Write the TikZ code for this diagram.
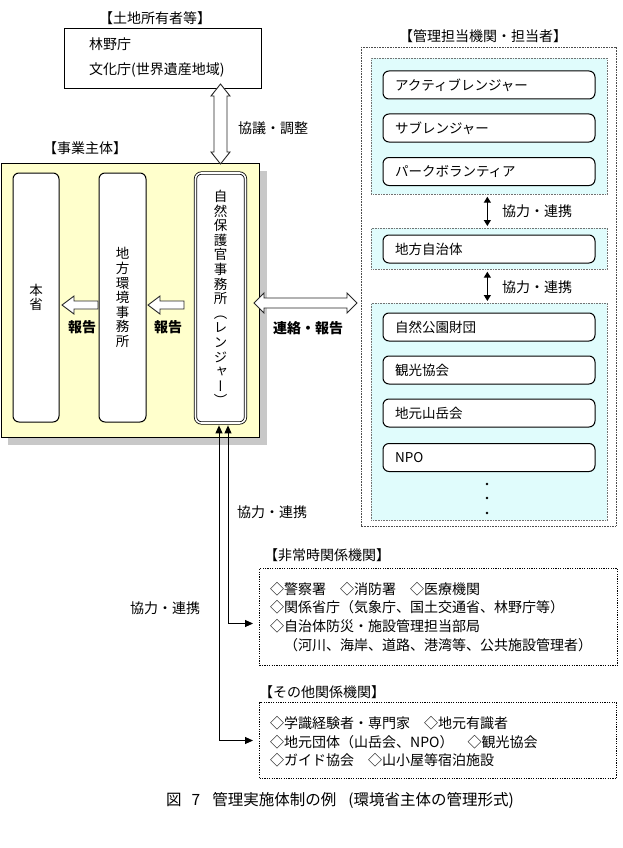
\documentclass[tikz,border=0pt]{standalone}
\usepackage{fontspec}
\setmainfont{Noto Sans CJK JP}
\newfontfamily\vertjp[RawFeature=+vert]{Noto Sans CJK JP}
\usetikzlibrary{arrows.meta,calc}

\definecolor{paleyellow}{RGB}{255,255,204}
\definecolor{palecyan}{RGB}{224,252,252}
\definecolor{shadegray}{RGB}{200,200,200}

\tikzset{
  every node/.style={inner sep=0, font=\fontsize{14}{16}\selectfont},
  plainbox/.style={draw, line width=0.8pt},
  pill/.style={draw, fill=white, rounded corners=6pt, line width=1pt},
  column/.style={pill, minimum width=46, minimum height=249, align=center,
    font=\vertjp\fontsize{13.5}{14.6}\selectfont},
  listitem/.style={pill, minimum width=212, minimum height=28, text width=188,
    align=left, inner xsep=12, font=\fontsize{13.5}{16}\selectfont},
  group/.style={draw=black!55, dash pattern=on 0.8pt off 0.8pt, fill=palecyan, line width=0.7pt},
  outerdots/.style={draw=black!70, dash pattern=on 0.8pt off 0.8pt, line width=0.8pt},
  listbox/.style={draw, dash pattern=on 1.2pt off 1.2pt, line width=1pt},
  hollow/.style={draw=black!85, fill=white, line width=0.9pt, line join=miter},
  boldlabel/.style={font=\bfseries\fontsize{14}{16}\selectfont},
  conn/.style={line width=0.9pt, {Triangle[length=8,width=7]}-{Triangle[length=8,width=7]}},
  linkarrow/.style={line width=1.3pt, {Triangle[length=6,width=7]}-{Triangle[length=6,width=7]}},
}

\begin{document}
\begin{tikzpicture}[x=1pt, y=-1pt]
\useasboundingbox (0,0) rectangle (623,848);

% landowners
\node (ownerslabel) at (155,18) {【土地所有者等】};
\node[plainbox, anchor=north west, minimum width=197, minimum height=60] (owners) at (64,28) {};
\node[anchor=west] (forestry) at (89,44) {林野庁};
\node[anchor=west] (culture) at (89,70) {文化庁(世界遺産地域)};

% operating body
\node (bodylabel) at (85,148) {【事業主体】};
\fill[shadegray] (8,171) rectangle (267,445);
\node[draw, fill=paleyellow, line width=1.2pt, anchor=north west,
      minimum width=258, minimum height=274] (body) at (0.6,163) {};

\node[column] (ministry) at (36,297.5) {本\\省};
\node[column, minimum width=47] (regional) at (122.5,297.5)
  {地\\方\\環\\境\\事\\務\\所};
\node[column, draw=black, double=white, double distance=1.6pt, line width=0.8pt,
      minimum width=50, minimum height=250] (ranger) at (220.5,298)
  {自\\然\\保\\護\\官\\事\\務\\所\\（\\レ\\ン\\ジ\\ャ\\ー\\）};

% consultation arrow (vertical, two-headed, hollow)
\draw[hollow, shift={(220.5,124)}]
  (0,-40) -- (9.5,-28) -- (6.5,-28) -- (6.5,28) -- (9.5,28) -- (0,40)
  -- (-9.5,28) -- (-6.5,28) -- (-6.5,-28) -- (-9.5,-28) -- cycle;
\node[anchor=west] (consultlabel) at (238,128) {協議・調整};

% report arrows (hollow, pointing left)
\foreach \tipx in {62,148}
  \draw[hollow, shift={(\tipx,305)}]
    (0,0) -- (12,-9) -- (12,-4) -- (36,-4) -- (36,4) -- (12,4) -- (12,9) -- cycle;
\node[boldlabel] (reportlabel1) at (82,327) {報告};
\node[boldlabel] (reportlabel2) at (168,327) {報告};

% liaison arrow (horizontal, two-headed, hollow)
\draw[hollow, shift={(305.5,303)}]
  (-51.5,0) -- (-41.5,-10) -- (-41.5,-5) -- (41.5,-5) -- (41.5,-10) -- (51.5,0)
  -- (41.5,10) -- (41.5,5) -- (-41.5,5) -- (-41.5,10) -- cycle;
\node[boldlabel] (liaisonlabel) at (308,328) {連絡・報告};

% management organisations
\node (mgmtlabel) at (483,36) {【管理担当機関・担当者】};
\draw[outerdots] (361,47) rectangle (616,526);

\node[group, anchor=north west, minimum width=236, minimum height=136] (grp1) at (371,58) {};
\node[group, anchor=north west, minimum width=236, minimum height=41] (grp2) at (371,228) {};
\node[group, anchor=north west, minimum width=236, minimum height=217] (grp3) at (371,303) {};

\node[listitem] (active) at (489,85) {アクティブレンジャー};
\node[listitem] (sub) at (489,128) {サブレンジャー};
\node[listitem] (volunteer) at (489,171.5) {パークボランティア};
\node[listitem] (local) at (489,249) {地方自治体};
\node[listitem] (foundation) at (489,327) {自然公園財団};
\node[listitem] (tourism) at (489,370) {観光協会};
\node[listitem] (alpine) at (489,413) {地元山岳会};
\node[listitem] (npo) at (489,457.5) {NPO};
\foreach \yy in {484,498,513} \fill (487,\yy) circle (1.3);

\draw[linkarrow] ($(grp1.south)+(-2,2)$) -- ($(grp2.north)+(-2,-2)$);
\draw[linkarrow] ($(grp2.south)+(-2,2)$) -- ($(grp3.north)+(-2,-2)$);
\node[anchor=west] (coop1) at (502,211) {協力・連携};
\node[anchor=west] (coop2) at (502,287) {協力・連携};

% emergency and other organisations
\node[anchor=west] (emerglabel) at (264,555) {【非常時関係機関】};
\node[listbox, anchor=north west, minimum width=358, minimum height=97] (emerg) at (259,568) {};
\node[anchor=north west, align=left, font=\fontsize{14}{18.6}\selectfont] (emergtext) at (270,582)
  {◇警察署　◇消防署　◇医療機関\\
   ◇関係省庁（気象庁、国土交通省、林野庁等）\\
   ◇自治体防災・施設管理担当部局\\
   　（河川、海岸、道路、港湾等、公共施設管理者）};

\node[anchor=west] (otherlabel) at (259,692) {【その他関係機関】};
\node[listbox, anchor=north west, minimum width=357, minimum height=76] (other) at (259,702) {};
\node[anchor=north west, align=left, font=\fontsize{14}{18.8}\selectfont] (othertext) at (270,716)
  {◇学識経験者・専門家　◇地元有識者\\
   ◇地元団体（山岳会、NPO）　◇観光協会\\
   ◇ガイド協会　◇山小屋等宿泊施設};

\draw[conn] ($(ranger.south)+(-1.5,2)$) |- ($(other.west)+(-6,0)$);
\draw[conn] ($(ranger.south)+(7.5,2)$) |- ($(emerg.west)+(-6,6.5)$);
\node[anchor=west] (coop3) at (237,512) {協力・連携};
\node[anchor=west] (coop4) at (130,608) {協力・連携};

% caption
\node[anchor=west, font=\fontsize{15.5}{18}\selectfont] (caption) at (166,800)
  {図\hspace{10pt}7\hspace{12pt}管理実施体制の例\hspace{12pt}(環境省主体の管理形式)};
\end{tikzpicture}
\end{document}
